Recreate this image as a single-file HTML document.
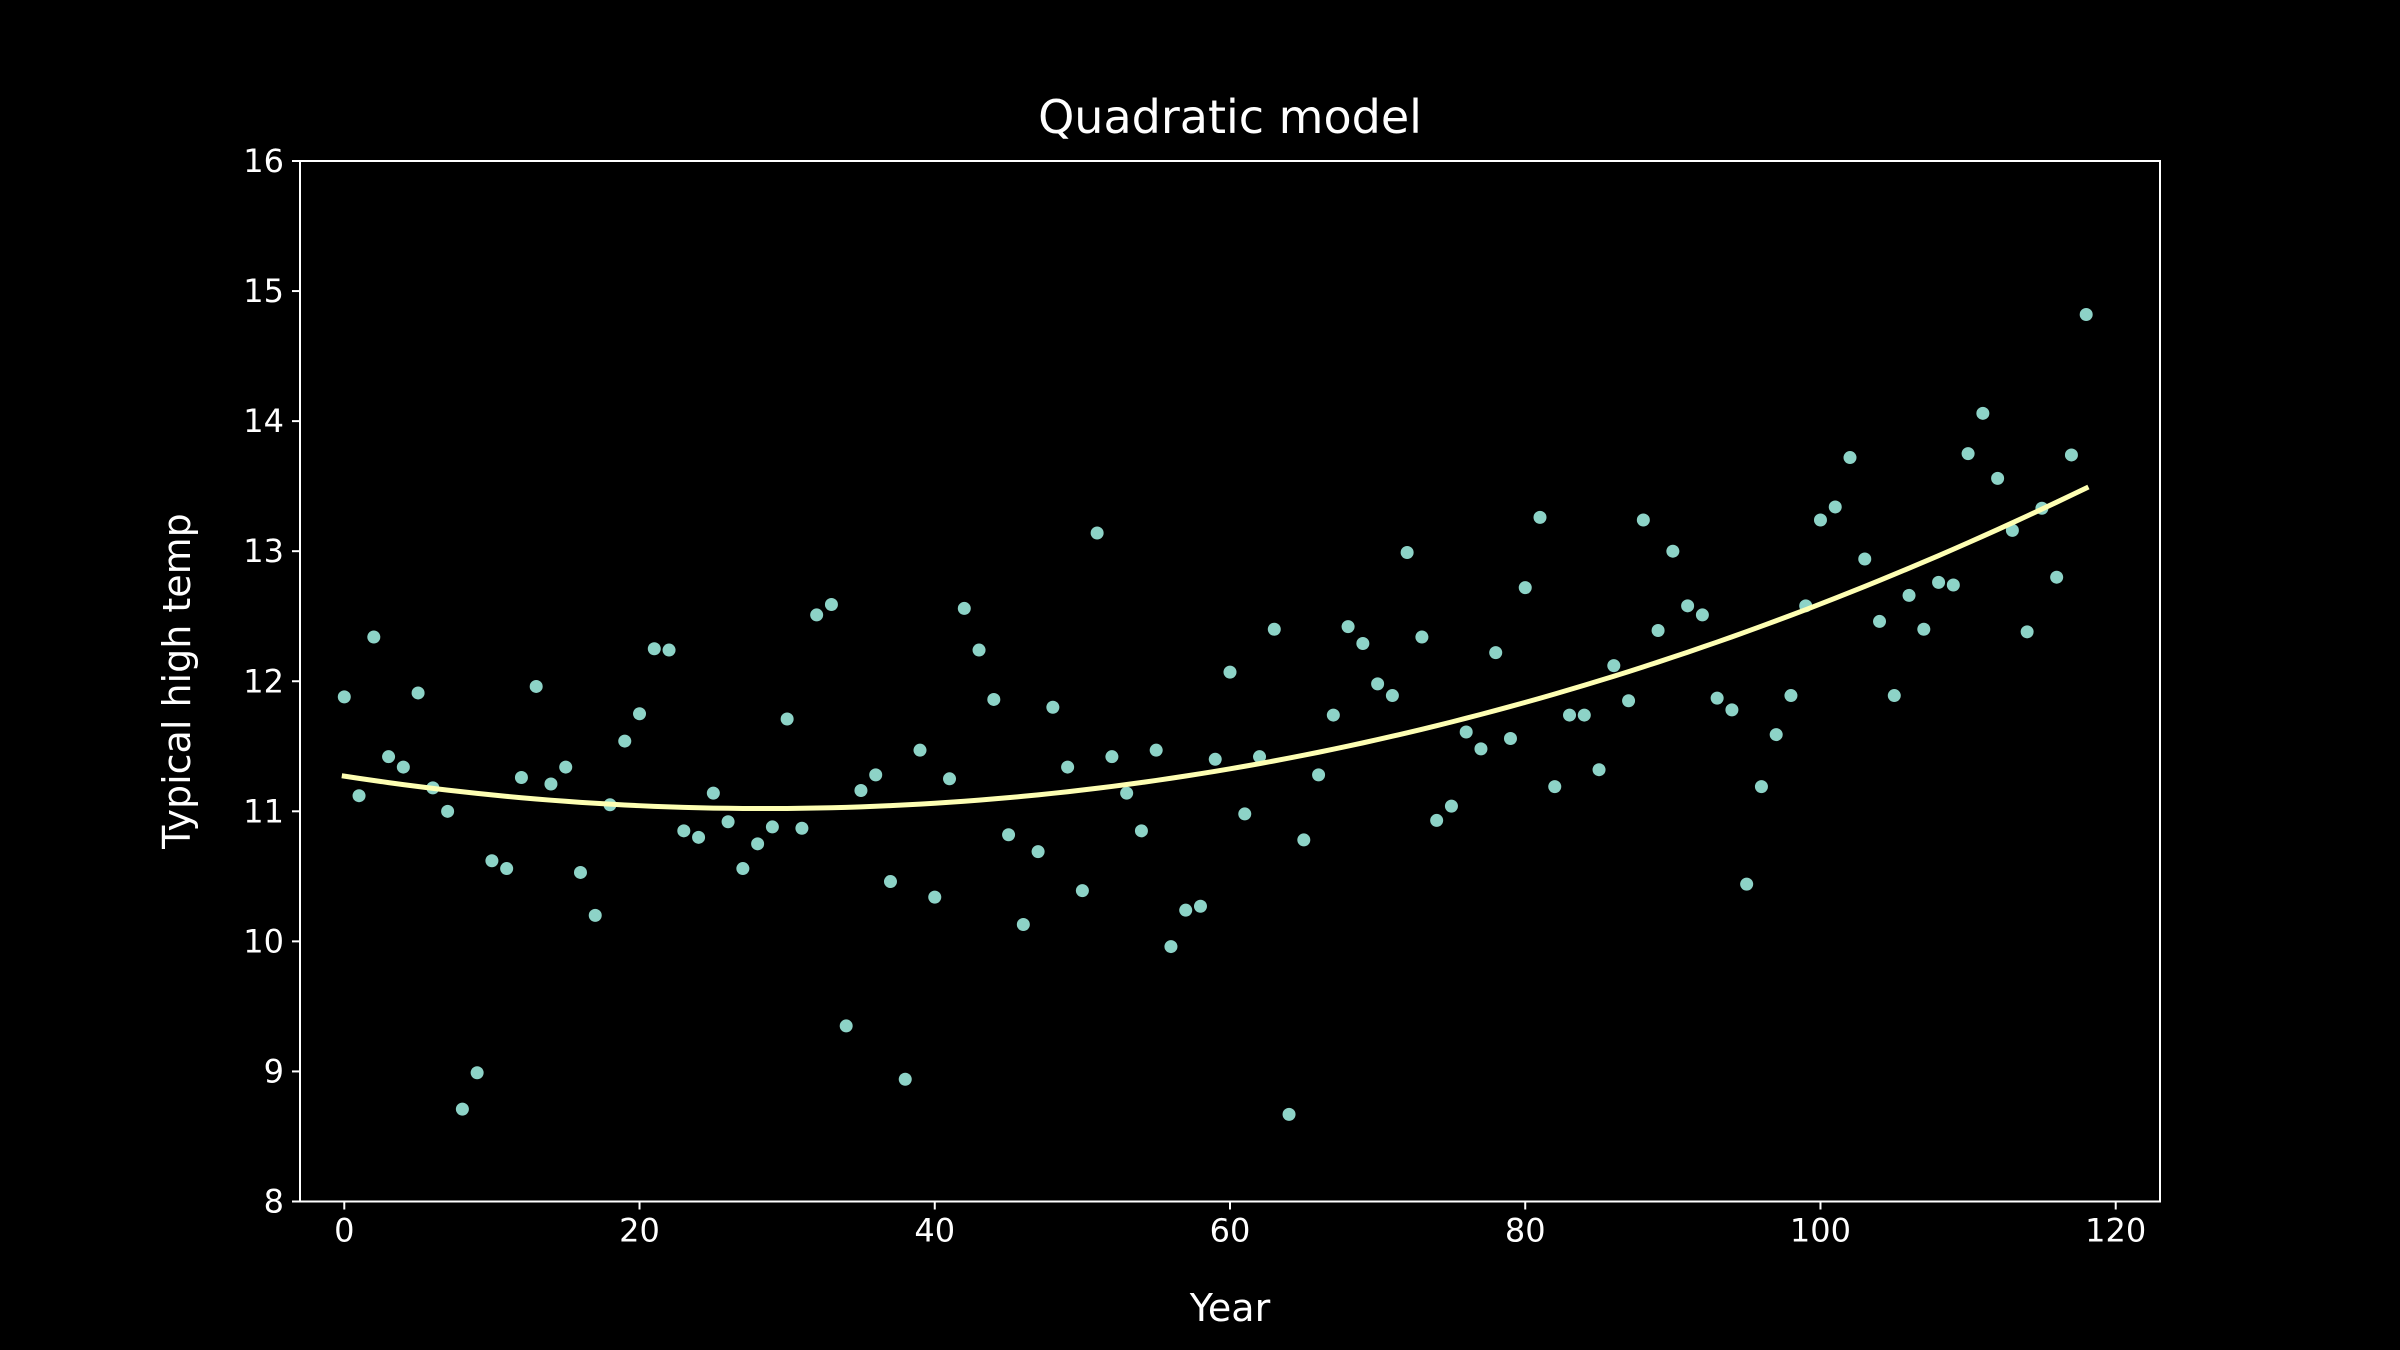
<!DOCTYPE html>
<html><head><meta charset="utf-8"><style>
html,body{margin:0;padding:0;background:#000;}
svg{display:block;font-family:"DejaVu Sans","Liberation Sans",sans-serif;}
</style></head><body>
<svg id="chart" width="2400" height="1350" viewBox="0 0 2400 1350" xmlns="http://www.w3.org/2000/svg">
<rect width="2400" height="1350" fill="#000"/>
<text x="1230" y="133" fill="#fff" font-size="46" text-anchor="middle">Quadratic model</text>
<text x="1230" y="1321" fill="#fff" font-size="38" text-anchor="middle">Year</text>
<text transform="translate(190,681) rotate(-90)" fill="#fff" font-size="38" text-anchor="middle">Typical high temp</text>
<g id="xticks"></g>
<g id="yticks"></g>
<g id="points"></g>
<g id="fit"></g>
<rect x="300" y="161" width="1860" height="1040.5" fill="none" stroke="#fff" stroke-width="2"/>
</svg>
<script>
const temps = [11.88,11.12,12.34,11.42,11.34,11.91,11.18,11.0,8.71,8.99,
10.62,10.56,11.26,11.96,11.21,11.34,10.53,10.2,11.05,11.54,
11.75,12.25,12.24,10.85,10.8,11.14,10.92,10.56,10.75,10.88,
11.71,10.87,12.51,12.59,9.35,11.16,11.28,10.46,8.94,11.47,
10.34,11.25,12.56,12.24,11.86,10.82,10.13,10.69,11.8,11.34,
10.39,13.14,11.42,11.14,10.85,11.47,9.96,10.24,10.27,11.4,
12.07,10.98,11.42,12.4,8.67,10.78,11.28,11.74,12.42,12.29,
11.98,11.89,12.99,12.34,10.93,11.04,11.61,11.48,12.22,11.56,
12.72,13.26,11.19,11.74,11.74,11.32,12.12,11.85,13.24,12.39,
13.0,12.58,12.51,11.87,11.78,10.44,11.19,11.59,11.89,12.58,
13.24,13.34,13.72,12.94,12.46,11.89,12.66,12.4,12.76,12.74,
13.75,14.06,13.56,13.16,12.38,13.33,12.8,13.74,14.82];
const years = temps.map((_, i) => i);
const xTickLabels = [0,20,40,60,80,100,120];
const yTickLabels = [8,9,10,11,12,13,14,15,16];
const NS = "http://www.w3.org/2000/svg";
const X0 = 300, X1 = 2160, Y0 = 1201.5, Y1 = 161;
const xMin = -3.0, xMax = 123.0, yMin = 8, yMax = 16;
const xs = v => X0 + (v - xMin) / (xMax - xMin) * (X1 - X0);
const ys = v => Y0 - (v - yMin) / (yMax - yMin) * (Y0 - Y1);
function mk(tag, attrs, parent){const e=document.createElementNS(NS,tag);for(const k in attrs)e.setAttribute(k,attrs[k]);parent.appendChild(e);return e;}
const gx = document.getElementById('xticks');
xTickLabels.forEach(t=>{
  const l = mk('line',{x1:xs(t),x2:xs(t),y1:Y0,y2:Y0+8,stroke:'#fff','stroke-width':2},gx);
  
  
  const tx = mk('text',{x:xs(t),y:Y0+40,fill:'#fff','font-size':32,'text-anchor':'middle'},gx);
  tx.textContent = t;
  
  
});
const gy = document.getElementById('yticks');
yTickLabels.forEach(t=>{
  const l = mk('line',{x1:X0-8,x2:X0,y1:ys(t),y2:ys(t),stroke:'#fff','stroke-width':2},gy);
  
  
  const tx = mk('text',{x:X0-16,y:ys(t)+11,fill:'#fff','font-size':32,'text-anchor':'end'},gy);
  tx.textContent = t;
  
  
});
const gp = document.getElementById('points');
years.forEach((yr,i)=>{
  const c = mk('circle',{cx:xs(yr),cy:ys(temps[i]),r:6.5,fill:'#8dd3c7'},gp);
  
  
});
// least-squares quadratic fit
function fitQuad(x,y){
  let S=[0,0,0,0,0],T=[0,0,0];
  for(let i=0;i<x.length;i++){let p=1;for(let k=0;k<5;k++){S[k]+=p;if(k<3)T[k]+=p*y[i];p*=x[i];}}
  const A=[[S[0],S[1],S[2],T[0]],[S[1],S[2],S[3],T[1]],[S[2],S[3],S[4],T[2]]];
  for(let c=0;c<3;c++){for(let r=c+1;r<3;r++){const f=A[r][c]/A[c][c];for(let k=c;k<4;k++)A[r][k]-=f*A[c][k];}}
  const b=[0,0,0];
  for(let r=2;r>=0;r--){let s=A[r][3];for(let k=r+1;k<3;k++)s-=A[r][k]*b[k];b[r]=s/A[r][r];}
  return b;
}
const coef = fitQuad(years,temps);
let d='';
years.forEach((yr,i)=>{const v=coef[0]+coef[1]*yr+coef[2]*yr*yr;d+=(i?'L':'M')+xs(yr).toFixed(2)+' '+ys(v).toFixed(2);});
const path = mk('path',{d:d,fill:'none',stroke:'#feffb3','stroke-width':5,'stroke-linejoin':'round','stroke-linecap':'square'},document.getElementById('fit'));


</script>
</body></html>
